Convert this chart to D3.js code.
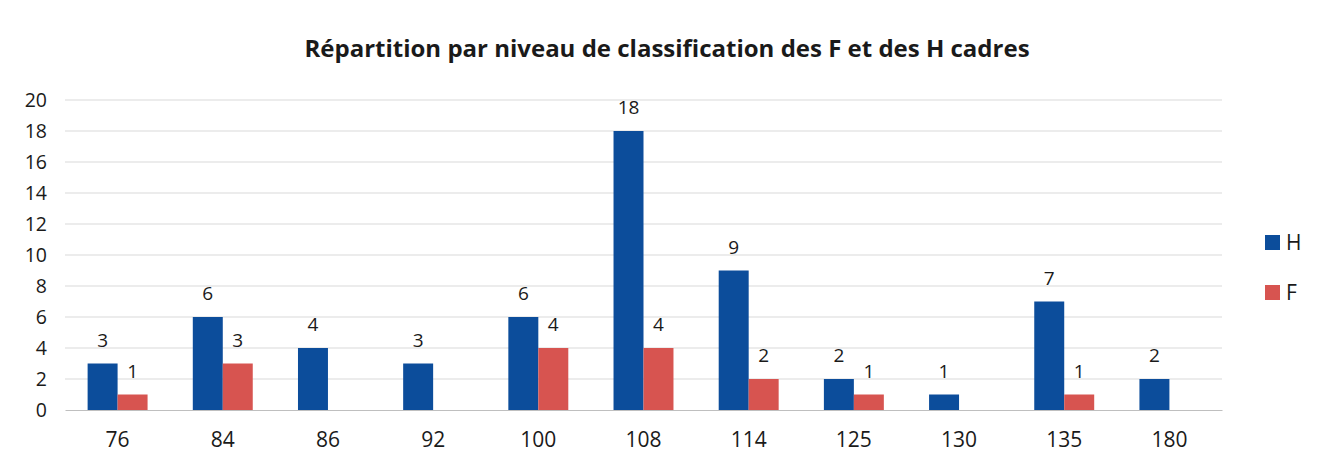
<!DOCTYPE html>
<html>
  <head>
    <meta charset="utf-8">
    <title>Répartition par niveau de classification</title>
    <style>
    body { margin: 0; background: #fff; }
    text { font-family: "Open Sans", sans-serif; fill: #1a1a1a; }
    .grid line { stroke: #d9d9d9; stroke-width: 1; }
    </style>
    <script src="https://d3js.org/d3.v7.min.js"></script>
  </head>
  <body>
    <svg id="chart"></svg>
    <script>
      // values
      var levels = ["76", "84", "86", "92", "100", "108", "114", "125", "130", "135", "180"];
      var hommes = [3, 6, 4, 3, 6, 18, 9, 2, 1, 7, 2];
      var femmes = [1, 3, null, null, 4, 4, 2, 1, null, 1, null];
      var seriesNames = ["H", "F"];
      var seriesColors = ["#0c4d9b", "#d75450"];
      var yTicks = [0, 2, 4, 6, 8, 10, 12, 14, 16, 18, 20];

      var width = 1328, height = 473;
      var margin = {top: 100, right: 106, bottom: 63, left: 65};

      var svg = d3.select("#chart")
          .attr("width", width)
          .attr("height", height);

      var x = d3.scaleBand()
          .domain(levels)
          .range([margin.left, width - margin.right])
          .paddingInner(0.43)
          .paddingOuter(0.215);

      var xs = d3.scaleBand()
          .domain(seriesNames)
          .range([0, x.bandwidth()]);

      var y = d3.scaleLinear()
          .domain([0, 20])
          .range([height - margin.bottom, margin.top]);

      // gridlines
      svg.append("g")
          .attr("class", "grid")
          .selectAll("line")
          .data(yTicks.slice(1))
          .enter().append("line")
            .attr("x1", margin.left)
            .attr("x2", width - margin.right)
            .attr("y1", function(d) { return y(d); })
            .attr("y2", function(d) { return y(d); });

      // y axis labels
      var yAxis = svg.append("g")
          .attr("transform", "translate(" + margin.left + ",0)")
          .call(d3.axisLeft(y).tickValues(yTicks).tickSize(0).tickPadding(18));
      yAxis.select(".domain").remove();
      yAxis.selectAll("text").style("font-size", "19.5px").style("fill", "#1a1a1a");

      // bars
      var rows = levels.map(function(l, i) {
        return {level: l, values: [hommes[i], femmes[i]]};
      });

      var group = svg.selectAll(".grp")
          .data(rows)
          .enter().append("g")
            .attr("class", "grp")
            .attr("transform", function(d) { return "translate(" + x(d.level) + ",0)"; });

      var cells = group.selectAll("g")
          .data(function(d) {
            return d.values.map(function(v, j) { return {name: seriesNames[j], value: v, color: seriesColors[j]}; })
              .filter(function(c) { return c.value != null; });
          })
          .enter().append("g");

      cells.append("rect")
          .attr("x", function(d) { return xs(d.name); })
          .attr("width", xs.bandwidth())
          .attr("y", function(d) { return y(d.value); })
          .attr("height", function(d) { return y(0) - y(d.value); })
          .attr("fill", function(d) { return d.color; });

      cells.append("text")
          .attr("x", function(d) { return xs(d.name) + xs.bandwidth() / 2; })
          .attr("y", function(d) { return y(d.value) - 17; })
          .attr("text-anchor", "middle")
          .style("font-size", "19px")
          .text(function(d) { return d.value; });

      // x axis
      var xAxis = svg.append("g")
          .attr("transform", "translate(0," + y(0) + ")")
          .call(d3.axisBottom(x).tickSize(0).tickPadding(22).tickSizeOuter(0));
      xAxis.select(".domain").attr("stroke", "#bfbfbf");
      xAxis.selectAll("text").style("font-size", "21px").style("fill", "#1a1a1a");

      // title
      svg.append("text")
          .attr("x", 667)
          .attr("y", 57)
          .attr("text-anchor", "middle")
          .style("font-size", "24px")
          .style("font-weight", "bold")
          .text("Répartition par niveau de classification des F et des H cadres");

      // legend
      var legend = svg.append("g")
          .selectAll("g")
          .data(seriesNames)
          .enter().append("g")
            .attr("transform", function(d, i) { return "translate(1265," + (235 + i * 50) + ")"; });
      legend.append("rect")
          .attr("width", 15)
          .attr("height", 15)
          .attr("fill", function(d, i) { return seriesColors[i]; });
      legend.append("text")
          .attr("x", 21)
          .attr("y", 15)
          .style("font-size", "21px")
          .text(function(d) { return d; });
    </script>
  </body>
</html>
